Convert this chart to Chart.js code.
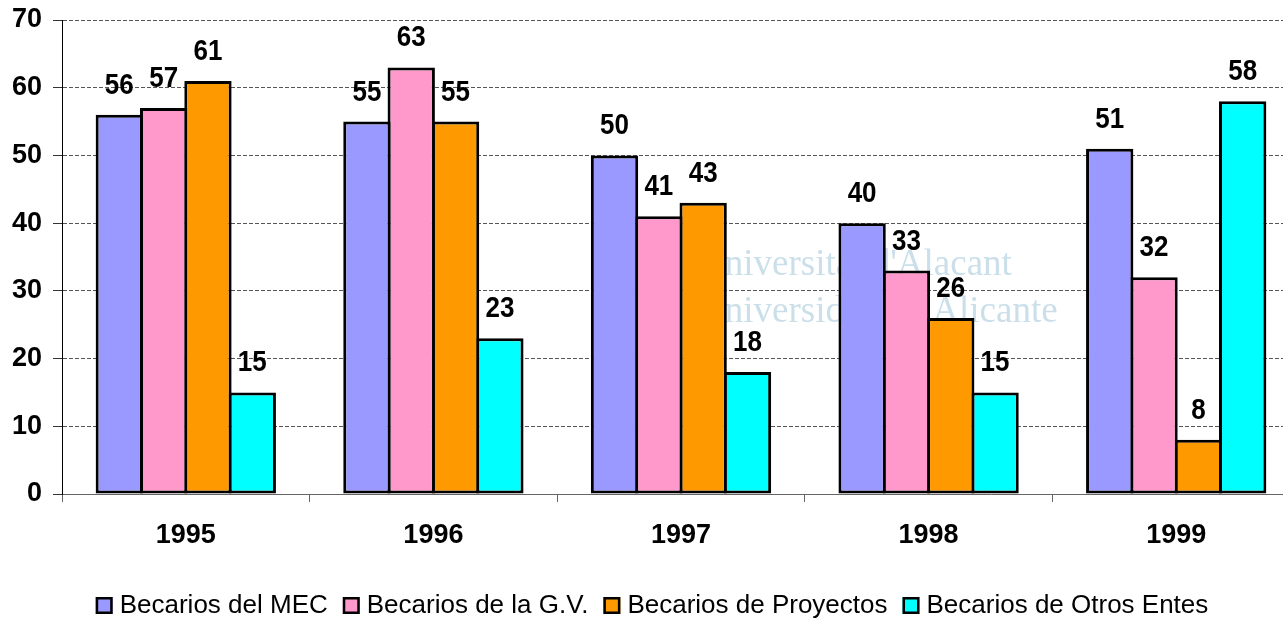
<!DOCTYPE html>
<html><head><meta charset="utf-8">
<script src="https://cdn.jsdelivr.net/npm/chart.js@4"></script>
<style>
html,body{margin:0;padding:0;overflow:hidden;background:#fff}
#wrap{width:1300px;height:620px;position:relative}
</style>
</head><body>
<div id="wrap"><canvas id="c"></canvas></div>
<script>
const categories = ['1995','1996','1997','1998','1999'];
const seriesNames = ['Becarios del MEC','Becarios de la G.V.','Becarios de Proyectos','Becarios de Otros Entes'];
const mec = [56,55,50,40,51];
const gv = [57,63,41,33,32];
const proyectos = [61,55,43,26,8];
const otros = [15,23,18,15,58];
const yTicks = [0,10,20,30,40,50,60,70];
const colors = ['#9999FF','#FF99CC','#FF9900','#00FFFF'];
const watermark = ["Universitat d'Alacant","Universidad de Alicante"];

const seriesValues = [mec, gv, proyectos, otros];
const FONT = '"Liberation Sans", Arial, sans-serif';

const watermarkPlugin = {
  id:'watermark',
  beforeDraw(chart){
    const ctx = chart.ctx;
    ctx.save();
    ctx.font = '37px "Liberation Serif", "Times New Roman", serif';
    ctx.fillStyle = '#cadfe9';
    ctx.textBaseline = 'alphabetic';
    ctx.textAlign = 'left';
    ctx.fillText(watermark[0], 698, 275);
    ctx.fillText(watermark[1], 698, 322);
    ctx.restore();
  }
};

const labelPlugin = {
  id:'barLabels',
  afterDatasetsDraw(chart){
    const ctx = chart.ctx;
    ctx.save();
    ctx.font = 'bold 26px ' + FONT;
    ctx.fillStyle = '#000';
    ctx.textAlign = 'center';
    ctx.textBaseline = 'alphabetic';
    chart.data.datasets.forEach((ds, di) => {
      const meta = chart.getDatasetMeta(di);
      meta.data.forEach((el, i) => {
        const base = el.y - 21;
        ctx.save();
        ctx.translate(el.x, base);
        ctx.scale(1, 1.12);
        ctx.fillText(String(ds.data[i]), 0, 0);
        ctx.restore();
      });
    });
    ctx.restore();
  }
};

const legendPlugin = {
  id:'customLegend',
  afterDraw(chart){
    const ctx = chart.ctx;
    ctx.save();
    ctx.font = '26px ' + FONT;
    const box = 17, gapText = 7, gapItem = 15;
    const n = chart.data.datasets.length;
    const widths = chart.data.datasets.map(d => ctx.measureText(d.label).width);
    const total = widths.reduce((a,b)=>a+b,0) + n*(box+gapText) + gapItem*(n-1);
    let x = 652 - total/2;
    const boxY = 597;
    chart.data.datasets.forEach((d, i) => {
      ctx.fillStyle = d.backgroundColor;
      ctx.fillRect(x, boxY, box, box);
      ctx.lineWidth = 2.5;
      ctx.strokeStyle = '#000';
      ctx.strokeRect(x+1.25, boxY+1.25, box-2.5, box-2.5);
      ctx.fillStyle = '#000';
      ctx.textAlign = 'left';
      ctx.textBaseline = 'alphabetic';
      ctx.fillText(d.label, x + box + gapText, 613);
      x += box + gapText + widths[i] + gapItem;
    });
    ctx.restore();
  }
};

new Chart(document.getElementById('c'), {
  type:'bar',
  data:{
    labels: categories,
    datasets: seriesNames.map((n, i) => ({
      label: n,
      data: seriesValues[i],
      backgroundColor: colors[i],
      borderColor: '#000',
      borderWidth: 3,
      borderSkipped: false
    }))
  },
  options:{
    responsive:true,
    maintainAspectRatio:false,
    animation:false,
    devicePixelRatio:1,
    layout:{padding:{left:0, top:20, right:0, bottom:66}},
    datasets:{bar:{categoryPercentage:0.716, barPercentage:1.068}},
    plugins:{legend:{display:false}, tooltip:{enabled:false}},
    scales:{
      x:{
        offset:true,
        grid:{display:true, drawOnChartArea:false, tickLength:8, color:'#666', offset:true},
        border:{display:true, color:'#666', width:1},
        ticks:{color:'#000', font:{family:FONT, size:27, weight:'bold'}, padding:17},
        afterFit(s){ s.height = 60; s.paddingLeft = 0; s.paddingRight = 0; }
      },
      y:{
        min:0, max:70,
        afterBuildTicks(s){ s.ticks = yTicks.map(v => ({value:v})); },
        grid:{color:'#555', lineWidth:1, tickLength:9, tickColor:'#333', tickBorderDash:[]},
        border:{display:true, color:'#000', width:1, dash:[4,2]},
        ticks:{color:'#000', font:{family:FONT, size:27, weight:'bold'}, padding:11},
        afterFit(s){ s.width = 62; s.paddingTop = 0; s.paddingBottom = 0; }
      }
    }
  },
  plugins:[watermarkPlugin, labelPlugin, legendPlugin]
});
</script>
</body></html>
